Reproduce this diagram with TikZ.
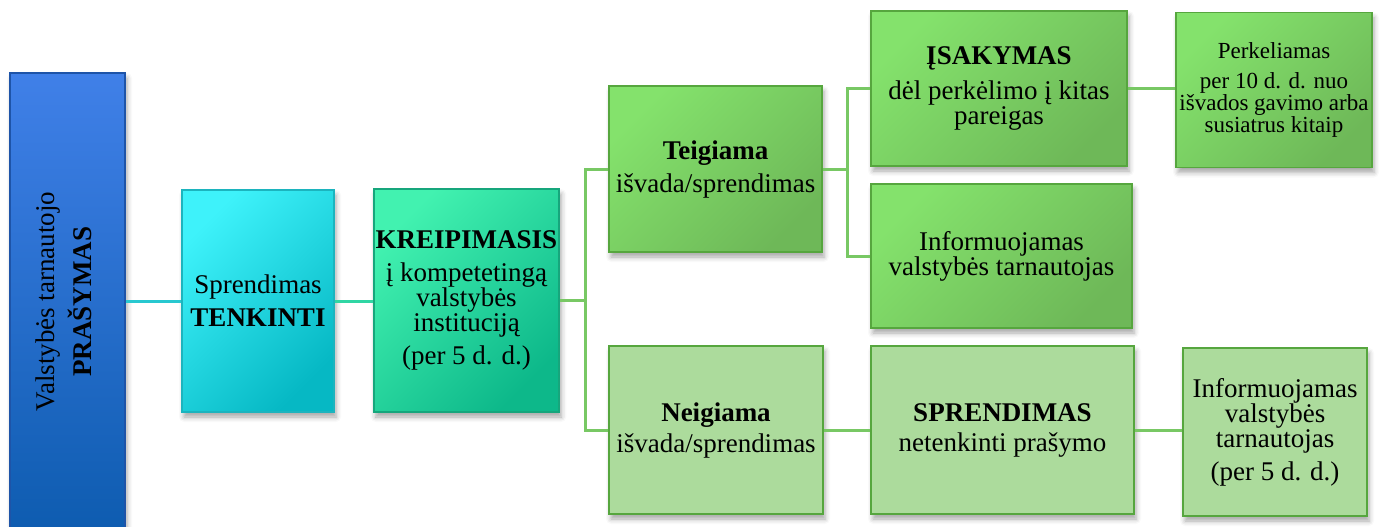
\documentclass[tikz,border=0pt]{standalone}
\usepackage{fontspec}
\setmainfont{Liberation Serif}
\usepackage{tikz}
\usetikzlibrary{shadows.blur}
\definecolor{bluetop}{RGB}{64,128,232}
\definecolor{bluebot}{RGB}{14,92,176}
\definecolor{blueedge}{RGB}{30,84,168}
\definecolor{cyantop}{RGB}{62,242,250}
\definecolor{cyanbot}{RGB}{6,184,196}
\definecolor{cyanedge}{RGB}{28,180,190}
\definecolor{minttop}{RGB}{66,242,176}
\definecolor{mintbot}{RGB}{13,184,138}
\definecolor{mintedge}{RGB}{22,166,124}
\definecolor{leaftop}{RGB}{132,226,108}
\definecolor{leafbot}{RGB}{110,184,88}
\definecolor{leafedge}{RGB}{86,166,62}
\definecolor{pale}{RGB}{172,219,156}
\definecolor{tealline}{RGB}{40,200,208}
\definecolor{mintline}{RGB}{48,214,164}
\definecolor{leafline}{RGB}{120,200,100}

\begin{document}
\begin{tikzpicture}[x=0.5pt, y=-0.5pt,
  box/.style={draw, line width=0.9pt, rectangle, align=center, inner sep=1pt,
    font=\fontsize{13.5}{12.5}\selectfont,
    blur shadow={shadow xshift=1pt, shadow yshift=-2.5pt, shadow blur radius=2.5pt, shadow opacity=35}},
  leafbox/.style={box, draw=leafedge, top color=leaftop, bottom color=leafbot, shading angle=45},
  palebox/.style={box, draw=leafedge, fill=pale},
  link/.style={line width=1.5pt, draw=leafline}]
\useasboundingbox (0,0) rectangle (1383,526);

% Request
\node[box, draw=blueedge, top color=bluetop, bottom color=bluebot, minimum width=57.5pt, minimum height=228.5pt] (prasymas) at (67.5,301.5)
  {\rotatebox{90}{\begin{tabular}{@{}c@{}}Valstybės tarnautojo\\[3pt]\textbf{PRAŠYMAS}\end{tabular}}};

% Decision to grant
\node[box, draw=cyanedge, top color=cyantop, bottom color=cyanbot, shading angle=45, minimum width=76pt, minimum height=111pt] (tenkinti) at (258,301)
  {Sprendimas\\[4pt]\textbf{TENKINTI}};

% Appeal
\node[box, draw=mintedge, top color=minttop, bottom color=mintbot, shading angle=45, minimum width=91.5pt, minimum height=111.5pt] (kreipimasis) at (466.5,300.5)
  {\textbf{KREIPIMASIS}\\[4pt]į kompetetingą\\valstybės\\instituciją\\[4pt](per 5 d. d.)};

% Positive branch
\node[leafbox, minimum width=106.5pt, minimum height=83pt] (teigiama) at (715.5,169)
  {\textbf{Teigiama}\\[4pt]išvada/sprendimas};
\node[leafbox, minimum width=128pt, minimum height=77.5pt] (isakymas) at (999,88.5)
  {\textbf{ĮSAKYMAS}\\[5pt]dėl perkėlimo į kitas\\pareigas};
\node[leafbox, minimum width=98pt, minimum height=77.5pt, font=\fontsize{11.5}{11}\selectfont] (perkeliamas) at (1274,90)
  {Perkeliamas\\[4pt]per 10 d. d. nuo\\išvados gavimo arba\\susiatrus kitaip};
\node[leafbox, minimum width=130.5pt, minimum height=72pt] (informuojamas) at (1001.5,256)
  {Informuojamas\\valstybės tarnautojas};

% Negative branch
\node[palebox, minimum width=107pt, minimum height=84pt] (neigiama) at (716,430)
  {\textbf{Neigiama}\\[3pt]išvada/sprendimas};
\node[palebox, minimum width=131.5pt, minimum height=84pt] (sprendimas) at (1002.5,430)
  {\textbf{SPRENDIMAS}\\[2.5pt]netenkinti prašymo};
\node[palebox, minimum width=92pt, minimum height=84pt] (informuojamasNeig) at (1275,432)
  {Informuojamas\\valstybės\\tarnautojas\\[4pt](per 5 d. d.)};

% Connectors
\draw[link, draw=tealline] (prasymas.east |- tenkinti.west) -- (tenkinti.west);
\draw[link, draw=mintline] (tenkinti.east) -- (tenkinti.east -| kreipimasis.west);
\draw[link] (kreipimasis.east) -- ++(25,0) coordinate (fork1) |- (teigiama.west);
\draw[link] (fork1) |- (neigiama.west);
\draw[link] (teigiama.east) -- ++(25,0) coordinate (fork2) |- (isakymas.west);
\draw[link] (fork2) |- (informuojamas.west);
\draw[link] (isakymas.east) -- (isakymas.east -| perkeliamas.west);
\draw[link] (neigiama.east) -- (sprendimas.west);
\draw[link] (sprendimas.east) -- (sprendimas.east -| informuojamasNeig.west);
\end{tikzpicture}
\end{document}
